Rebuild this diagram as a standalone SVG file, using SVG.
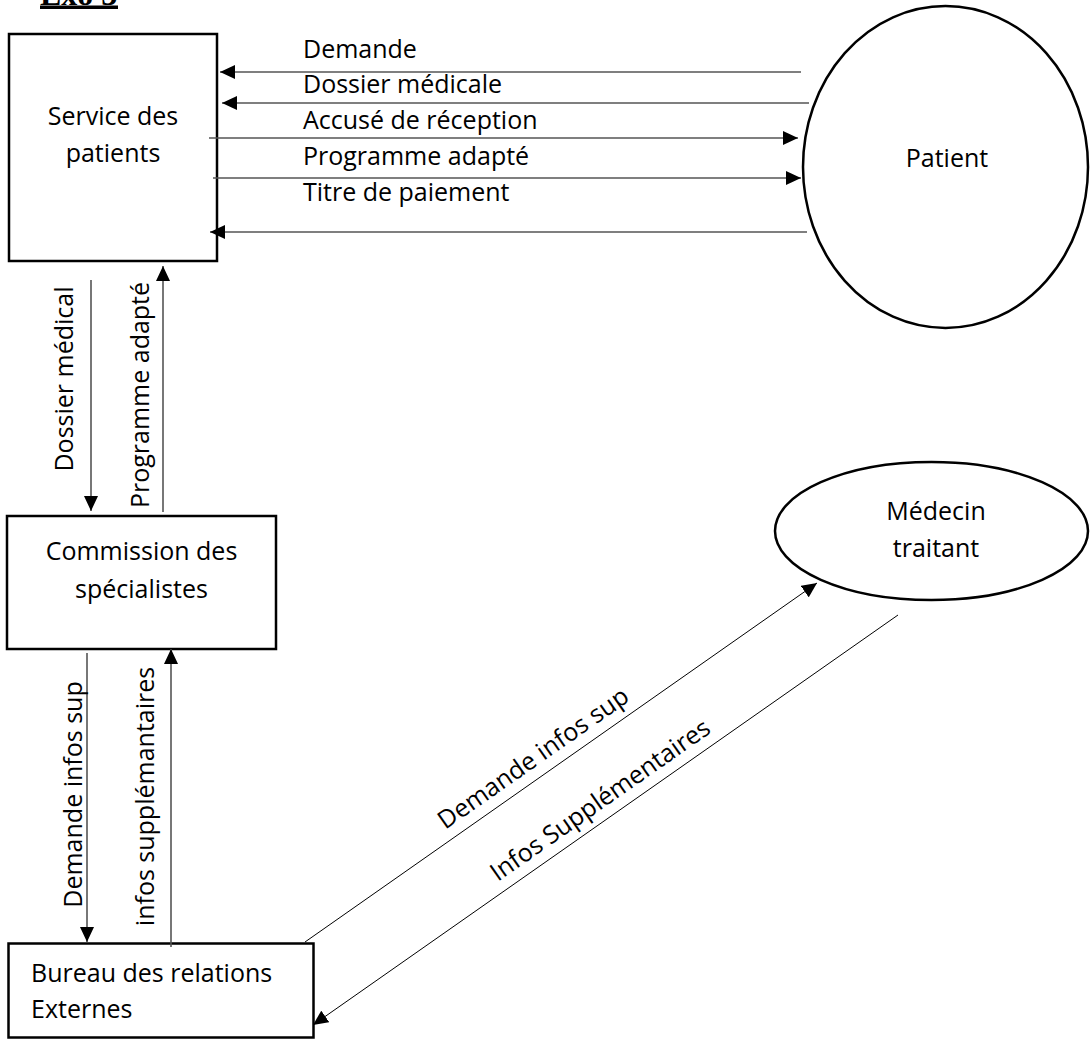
<svg xmlns="http://www.w3.org/2000/svg" width="1090" height="1040" viewBox="0 0 1090 1040">
  <style>
    .box { fill: #fff; stroke: #000; stroke-width: 2.5; }
    .ent { fill: #fff; stroke: #000; stroke-width: 2.5; }
    .lbl { font-family: "Open Sans", "Noto Sans", sans-serif; font-size: 25px; fill: #000; }
    .mid { text-anchor: middle; }
    .flow { stroke: #555; stroke-width: 1.6; fill: none; marker-end: url(#arrow); }
    .diag { stroke: #000; stroke-width: 1; fill: none; }
    .title { font-family: "Liberation Serif", serif; font-weight: bold; font-size: 32px; fill: #000; }
  </style>
  <defs>
    <marker id="arrow" markerUnits="userSpaceOnUse" markerWidth="15" markerHeight="14" refX="15" refY="7" orient="auto">
      <path d="M0,0 L15,7 L0,14 Z" fill="#000"/>
    </marker>
  </defs>

  <rect width="1090" height="1040" fill="#fff"/>

  <!-- exercise heading, clipped by the page top -->
  <g id="heading">
    <text class="title" x="40" y="4.5">Exo 3</text>
    <rect x="40" y="5.5" width="78" height="3.5" fill="#000"/>
  </g>

  <g id="service-patients">
    <rect class="box" x="9" y="34" width="208" height="227"/>
    <text class="lbl mid" x="113" y="125">Service des</text>
    <text class="lbl mid" x="113" y="162">patients</text>
  </g>

  <g id="patient">
    <ellipse class="ent" cx="945.5" cy="167" rx="142.5" ry="161"/>
    <text class="lbl mid" x="947" y="167">Patient</text>
  </g>

  <g id="commission">
    <rect class="box" x="7" y="516" width="269" height="133"/>
    <text class="lbl mid" x="141.5" y="560">Commission des</text>
    <text class="lbl mid" x="141.5" y="597.5">spécialistes</text>
  </g>

  <g id="medecin">
    <ellipse class="ent" cx="931.5" cy="531" rx="156.5" ry="69"/>
    <text class="lbl mid" x="936" y="520">Médecin</text>
    <text class="lbl mid" x="936" y="556.5">traitant</text>
  </g>

  <g id="bureau">
    <rect class="box" x="8.5" y="943.5" width="305" height="94"/>
    <text class="lbl" x="31" y="981.5">Bureau des relations</text>
    <text class="lbl" x="31" y="1018">Externes</text>
  </g>

  <g id="connectors">
    <!-- Patient <-> Service des patients -->
    <line class="flow" x1="801" y1="72" x2="220" y2="72"/>
    <line class="flow" x1="809" y1="103" x2="222" y2="103"/>
    <line class="flow" x1="209" y1="138" x2="798" y2="138"/>
    <line class="flow" x1="213" y1="178" x2="801" y2="178"/>
    <line class="flow" x1="807" y1="232" x2="210" y2="232"/>
    <text class="lbl" x="303" y="58">Demande</text>
    <text class="lbl" x="303" y="93">Dossier médicale</text>
    <text class="lbl" x="303" y="129">Accusé de réception</text>
    <text class="lbl" x="303" y="165">Programme adapté</text>
    <text class="lbl" x="303" y="201">Titre de paiement</text>

    <!-- Service des patients <-> Commission -->
    <line class="flow" x1="91" y1="280" x2="91" y2="511"/>
    <line class="flow" x1="163" y1="512" x2="163" y2="266"/>
    <text class="lbl mid" transform="translate(72.5,379) rotate(-90)">Dossier médical</text>
    <text class="lbl mid" transform="translate(149,395) rotate(-90)">Programme adapté</text>

    <!-- Commission <-> Bureau -->
    <line class="flow" x1="87" y1="653" x2="87" y2="942"/>
    <line class="flow" x1="171" y1="947" x2="171" y2="649"/>
    <text class="lbl mid" transform="translate(81.5,794.5) rotate(-90)">Demande infos sup</text>
    <text class="lbl mid" transform="translate(154,796.5) rotate(-90)">infos supplémantaires</text>

    <!-- Bureau <-> Médecin traitant -->
    <line class="diag" x1="305" y1="942" x2="817" y2="583" marker-end="url(#arrow)"/>
    <line class="diag" x1="898" y1="615" x2="313" y2="1025" marker-end="url(#arrow)"/>
    <text class="lbl mid" transform="translate(538,765) rotate(-35)">Demande infos sup</text>
    <text class="lbl mid" transform="translate(605,807) rotate(-35)">Infos Supplémentaires</text>
  </g>
</svg>
